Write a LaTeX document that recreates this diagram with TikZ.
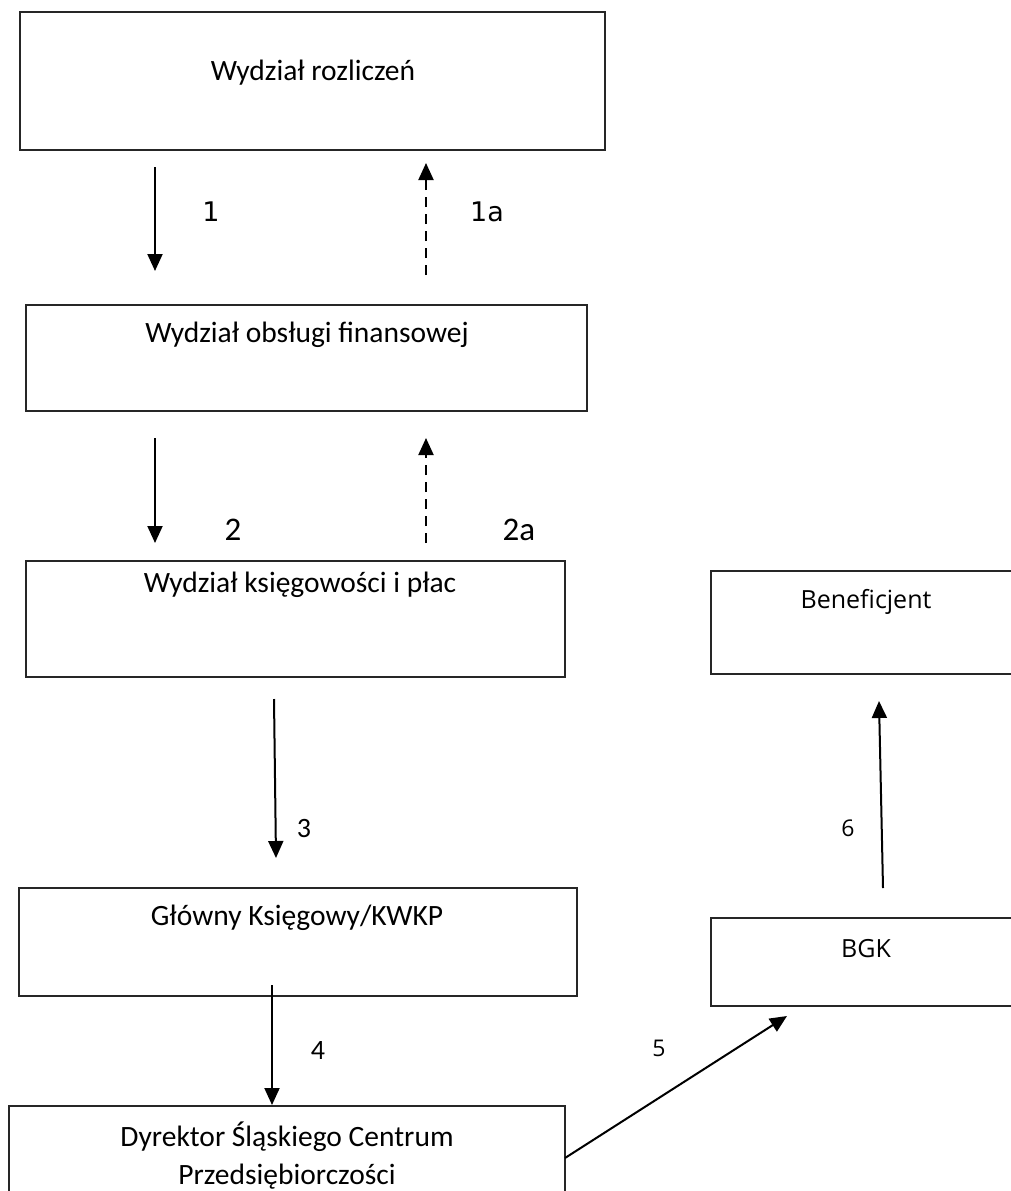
\documentclass[tikz,border=0pt]{standalone}
\usepackage{fontspec}
\setmainfont{Carlito}
\newfontfamily\verd{DejaVu Sans}
\newfontfamily\segoe{Open Sans}
\usetikzlibrary{arrows.meta}
\begin{document}
\begin{tikzpicture}[x=1pt,y=-1pt,
  boxrect/.style={draw=black!85, line width=1.3pt},
  boxtxt/.style={font=\fontsize{29.5}{38}\selectfont, inner sep=0pt, align=center},
  rtxt/.style={font=\segoe\fontsize{25}{30}\selectfont, inner sep=0pt},
  flow/.style={line width=2pt, -{Triangle[length=17pt,width=15pt]}},
  backflow/.style={flow, dash pattern=on 10pt off 7pt},
  numv/.style={font=\verd\fontsize{27}{30}\selectfont, inner sep=0pt},
  numc/.style={font=\fontsize{33}{36}\selectfont, inner sep=0pt},
  nums/.style={font=\fontsize{28}{30}\selectfont, inner sep=0pt},
  numo/.style={font=\segoe\fontsize{23}{28}\selectfont, inner sep=0pt}]
\useasboundingbox (0,0) rectangle (1011,1191);
\clip (0,0) rectangle (1011,1191);
\fill[white] (0,0) rectangle (1011,1191);
% boxes
\draw[boxrect] (20,12) rectangle (605,150);
\node[boxtxt] (t1) at (313,73) {Wydział rozliczeń};
\draw[boxrect] (26,305) rectangle (587,411);
\node[boxtxt] (t2) at (307,335) {Wydział obsługi finansowej};
\draw[boxrect] (26,561) rectangle (565,677);
\node[boxtxt] (t3) at (300,585) {Wydział księgowości i płac};
\draw[boxrect] (19,888) rectangle (577,996);
\node[boxtxt] (t4) at (297,918) {Główny Księgowy/KWKP};
\draw[boxrect] (9,1106) rectangle (565,1230);
\node[boxtxt] (t5) at (287,1137) {Dyrektor Śląskiego Centrum};
\node[boxtxt] (t5b) at (287,1177) {Przedsiębiorczości};
\draw[boxrect] (711,571) rectangle (1030,674);
\node[rtxt] (tb) at (866,602) {Beneficjent};
\draw[boxrect] (711,918) rectangle (1030,1006);
\node[rtxt] (tg) at (866,949) {BGK};
% arrow endpoints
\coordinate (a1s) at (155,167); \coordinate (a1e) at (155,271);
\coordinate (b1s) at (426,275); \coordinate (b1e) at (426,163);
\coordinate (a2s) at (155,438); \coordinate (a2e) at (155,543);
\coordinate (b2s) at (426,543); \coordinate (b2e) at (426,438);
\coordinate (a3s) at (274,699); \coordinate (a3e) at (276,858);
\coordinate (a4s) at (272,985); \coordinate (a4e) at (272,1105);
\coordinate (a5s) at (565,1158); \coordinate (a5e) at (787,1016);
\coordinate (a6s) at (883,888); \coordinate (a6e) at (879,701);
% arrows
\draw[flow] (a1s) -- (a1e);
\draw[backflow] (b1s) -- (b1e);
\draw[flow] (a2s) -- (a2e);
\draw[backflow] (b2s) -- (b2e);
\draw[flow] (a3s) -- (a3e);
\draw[flow] (a4s) -- (a4e);
\draw[flow] (a5s) -- (a5e);
\draw[flow] (a6s) -- (a6e);
% labels
\node[numv] (l1) at (211,212) {1};
\node[numv] (l1a) at (487,212) {1a};
\node[numc] (l2) at (233,530) {2};
\node[numc] (l2a) at (519,530) {2a};
\node[nums] (l3) at (304,828) {3};
\node[nums] (l4) at (318,1050) {4};
\node[numo] (l5) at (659,1048) {5};
\node[numo] (l6) at (848,828) {6};
\end{tikzpicture}
\end{document}
